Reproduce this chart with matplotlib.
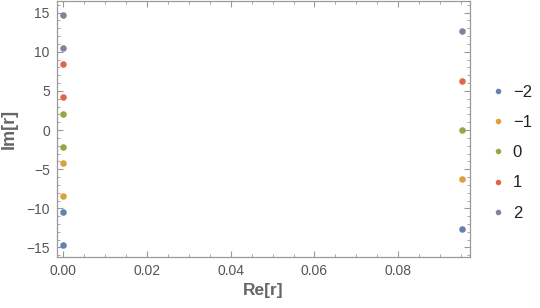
#!/usr/bin/python3
# Roots r of the characteristic equation, grouped by branch index
import numpy as np
from matplotlib import pyplot as plt
from matplotlib.ticker import MultipleLocator

plt.rcParams['font.family'] = ['Liberation Sans', 'DejaVu Sans']

# branch labels and (slightly muted) Mathematica default colours
labels = ['\u22122', '\u22121', '0', '1', '2']
colors = ['#6381B0', '#DCA03A', '#8FAA42', '#E06649', '#85809F']

# Re[r] and Im[r], one list per branch
re_m2 = [0.0, 0.0, 0.0953]
im_m2 = [-10.5, -14.7, -12.6]
re_m1 = [0.0, 0.0, 0.0953]
im_m1 = [-4.2, -8.4, -6.3]
re_0 = [0.0, 0.0, 0.0953]
im_0 = [2.1, -2.1, 0.0]
re_p1 = [0.0, 0.0, 0.0953]
im_p1 = [8.4, 4.2, 6.3]
re_p2 = [0.0, 0.0, 0.0953]
im_p2 = [14.7, 10.5, 12.6]

re_all = [re_m2, re_m1, re_0, re_p1, re_p2]
im_all = [im_m2, im_m1, im_0, im_p1, im_p2]

fig = plt.figure(figsize=(5.4, 3.08), dpi=100)
ax = fig.add_axes([0.105, 0.166, 0.765, 0.831])

for i in range(len(labels)):
    ax.plot(re_all[i], im_all[i], 'o', ms=3.7, color=colors[i],
            label=labels[i], linestyle='none')

ax.set_xlim(-0.00158, 0.0971)
ax.set_ylim(-16.2, 16.5)
ax.xaxis.set_major_locator(MultipleLocator(0.02))
ax.xaxis.set_minor_locator(MultipleLocator(0.005))
ax.yaxis.set_major_locator(MultipleLocator(5))
ax.yaxis.set_minor_locator(MultipleLocator(1))
ax.xaxis.set_major_formatter(plt.FuncFormatter(lambda v, p: '%.2f' % v))

frame = '#999999'
for s in ax.spines.values():
    s.set_color(frame)
    s.set_linewidth(0.9)
ax.tick_params(which='both', direction='in', top=True, right=True,
               color=frame, labelcolor='#555555', labelsize=10)
ax.tick_params(which='major', length=4, width=0.8, pad=5)
ax.tick_params(which='minor', length=2, width=0.6)

ax.set_xlabel('Re[r]', fontsize=12.5, fontweight='bold', color='#666666',
              labelpad=4)
ax.set_ylabel('Im[r]', fontsize=13, fontweight='bold', color='#666666',
              labelpad=6)

leg = ax.legend(loc='center left', bbox_to_anchor=(1.032, 0.407),
                borderaxespad=0, frameon=False, fontsize=12,
                labelspacing=0.91, handletextpad=0.43, handlelength=0.96,
                markerscale=0.8)
for t in leg.get_texts():
    t.set_color('#222222')

plt.savefig('out.png', dpi=100)
